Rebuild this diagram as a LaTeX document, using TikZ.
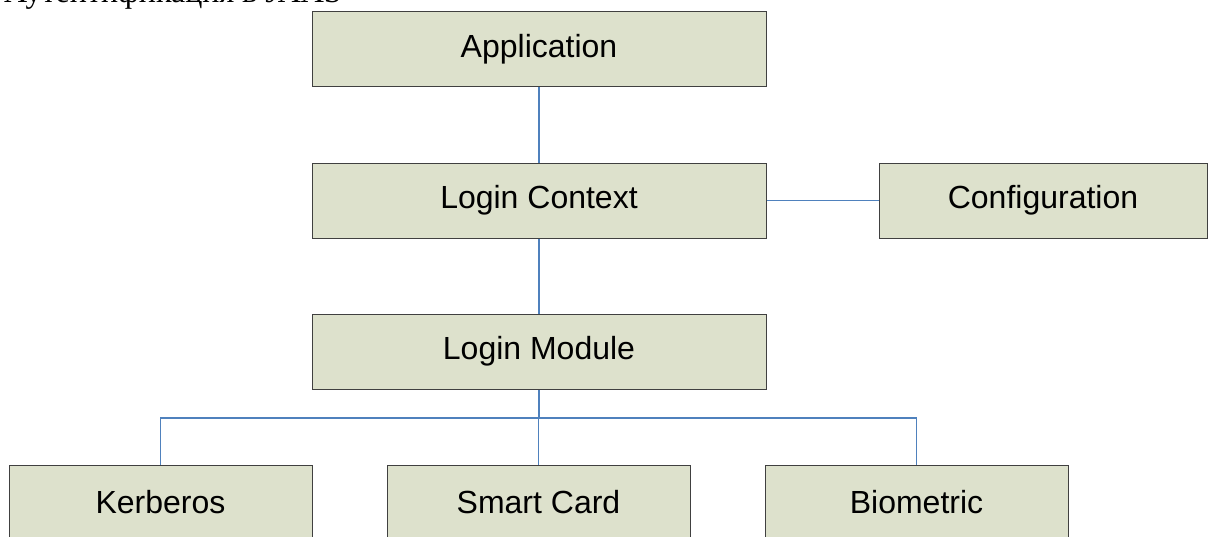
\documentclass[tikz,border=0pt]{standalone}
\usepackage{fontspec}
\setmainfont{Liberation Sans}
\newfontfamily\headfont{Liberation Serif}
\definecolor{boxfill}{HTML}{DDE1CC}
\definecolor{boxline}{HTML}{404040}
\definecolor{linkblue}{HTML}{4F81BD}
\begin{document}
\begin{tikzpicture}[x=1pt,y=-1pt,
  blk/.style={draw=boxline,fill=boxfill,line width=1pt,minimum height=75pt,inner sep=0pt,font=\fontsize{32}{38}\selectfont},
  link/.style={draw=linkblue,line width=1.4pt}]
\useasboundingbox (0,0) rectangle (1208,536);
\clip (0,0) rectangle (1208,536);
\node[anchor=base west,inner sep=0pt,font=\headfont\fontsize{32}{38}\selectfont] (head) at (4,2.5) {Аутентификация в JAAS};
\node[blk,minimum width=454pt] (app) at (539,49) {Application};
\node[blk,minimum width=454pt] (ctx) at (539,200.5) {Login Context};
\node[blk,minimum width=328pt] (cfg) at (1043,200.5) {Configuration};
\node[blk,minimum width=454pt] (mod) at (539,351.5) {Login Module};
\node[blk,minimum width=303pt] (krb) at (160.5,502.5) {Kerberos};
\node[blk,minimum width=303pt] (sc) at (538.5,502.5) {Smart Card};
\node[blk,minimum width=303pt] (bio) at (916.5,502.5) {Biometric};
\coordinate (bus) at (539,418);
\draw[link] (app.south) -- (ctx.north);
\draw[link] (ctx.east) -- (cfg.west);
\draw[link] (ctx.south) -- (mod.north);
\draw[link] (mod.south) -- (bus);
\draw[link] (krb.north) |- (bus);
\draw[link] (sc.north) -- (sc.north |- bus);
\draw[link] (bio.north) |- (bus);
\end{tikzpicture}
\end{document}
